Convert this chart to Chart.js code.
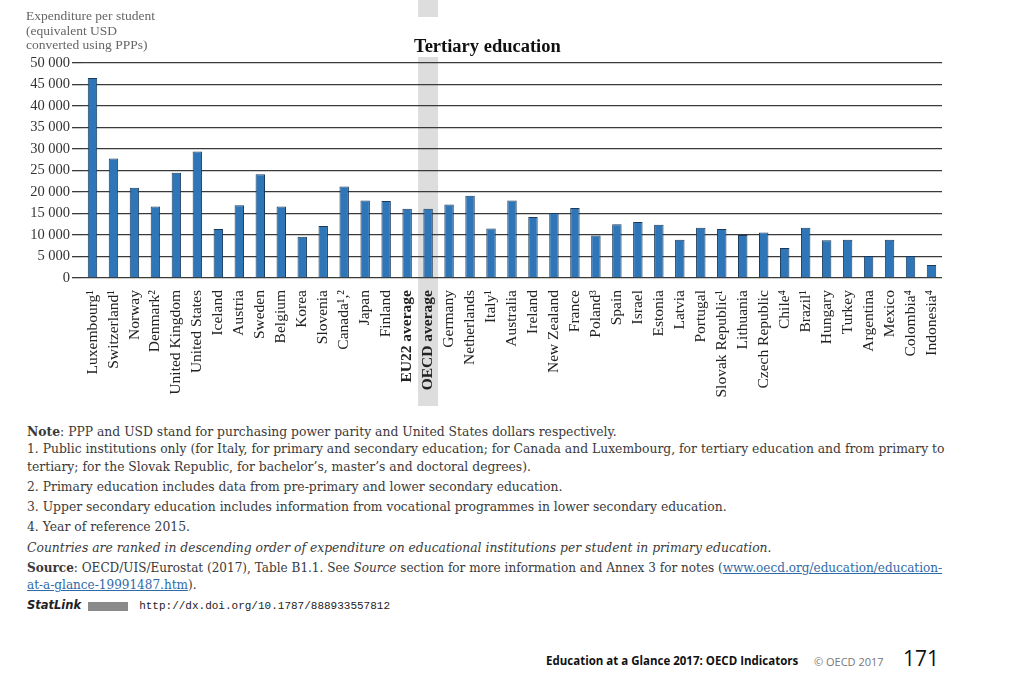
<!DOCTYPE html>
<html>
<head>
<meta charset="utf-8">
<script src="https://cdn.jsdelivr.net/npm/chart.js"></script>
<style>
  body { margin: 0; background: #fff; }
  #page { position: relative; width: 1025px; height: 673px; overflow: hidden; background: #fff; }
  #chart { position: absolute; left: 0; top: 0; }
  .t { position: absolute; white-space: nowrap; font-family: "Liberation Serif", serif; color: #333; }
  .note { font-family: "DejaVu Serif", serif; font-size: 12.35px; line-height: 16px; left: 27px; color: #3a3a3a; }
  a { color: #2f6aa8; text-decoration: underline; }
</style>
</head>
<body>
<div id="page">
  <canvas id="chart" width="1025" height="415"></canvas>

  <div class="t" style="left:26px;top:9px;font-size:13.5px;line-height:14.5px;color:#666;">Expenditure per student<br>(equivalent USD<br>converted using PPPs)</div>
  <div class="t" style="left:414px;top:36px;font-size:18.5px;font-weight:bold;color:#111;">Tertiary education</div>

  <div class="t note" style="top:424px;"><b>Note</b>: PPP and USD stand for purchasing power parity and United States dollars respectively.</div>
  <div class="t note" style="top:441px;">1. Public institutions only (for Italy, for primary and secondary education; for Canada and Luxembourg, for tertiary education and from primary to</div>
  <div class="t note" style="top:459px;">tertiary; for the Slovak Republic, for bachelor’s, master’s and doctoral degrees).</div>
  <div class="t note" style="top:479px;">2. Primary education includes data from pre-primary and lower secondary education.</div>
  <div class="t note" style="top:499px;">3. Upper secondary education includes information from vocational programmes in lower secondary education.</div>
  <div class="t note" style="top:519px;">4. Year of reference 2015.</div>
  <div class="t note" style="top:540px;font-style:italic;">Countries are ranked in descending order of expenditure on educational institutions per student in primary education.</div>
  <div class="t note" style="top:560px;font-size:12.05px;"><b>Source</b>: OECD/UIS/Eurostat (2017), Table B1.1. See <i>Source</i> section for more information and Annex 3 for notes (<a>www.oecd.org/education/education-</a></div>
  <div class="t note" style="top:577px;font-size:12.05px;"><a>at-a-glance-19991487.htm</a>).</div>
  <div class="t" style="left:27px;top:598px;font-size:12px;line-height:14px;color:#222;">
    <span style="font-family:'DejaVu Sans',sans-serif;font-style:italic;font-weight:bold;font-size:11.5px;">StatLink</span>
    <span style="display:inline-block;width:40px;height:9px;background:#8a8a8a;margin:0 8px 0 4px;vertical-align:middle;"></span>
    <span style="font-family:'Liberation Mono',monospace;font-size:11px;">http://dx.doi.org/10.1787/888933557812</span>
  </div>

  <div class="t" style="left:546px;top:653px;font-family:'Open Sans',sans-serif;font-weight:bold;font-size:11.5px;color:#111;">Education at a Glance 2017: OECD Indicators</div>
  <div class="t" style="left:814px;top:654px;font-family:'Open Sans',sans-serif;font-size:11px;color:#777;">© OECD 2017</div>
  <div class="t" style="left:903px;top:644px;font-family:'Open Sans',sans-serif;font-size:21px;color:#111;">171</div>
</div>

<script>
const countries = [
  "Luxembourg¹", "Switzerland¹", "Norway", "Denmark²", "United Kingdom", "United States",
  "Iceland", "Austria", "Sweden", "Belgium", "Korea", "Slovenia", "Canada¹,²", "Japan",
  "Finland", "EU22 average", "OECD average", "Germany", "Netherlands", "Italy¹", "Australia",
  "Ireland", "New Zealand", "France", "Poland³", "Spain", "Israel", "Estonia", "Latvia",
  "Portugal", "Slovak Republic¹", "Lithuania", "Czech Republic", "Chile⁴", "Brazil¹",
  "Hungary", "Turkey", "Argentina", "Mexico", "Colombia⁴", "Indonesia⁴"
];

const expenditure = [
  46500, 27800, 21000, 16600, 24500, 29400,
  11400, 16900, 24100, 16600, 9600, 12100, 21300, 18000,
  17900, 16100, 16100, 17100, 19100, 11500, 18000,
  14200, 15100, 16300, 9900, 12500, 13000, 12400, 8900,
  11700, 11400, 10000, 10600, 7000, 11700,
  8800, 8900, 5100, 8900, 5100, 3000
];

const boldLabels = ["EU22 average", "OECD average"];
const yMax = 50000;
const yStep = 5000;

const formatThousands = (v) => String(v).replace(/\B(?=(\d{3})+(?!\d))/g, " ");

// grey column behind the OECD average
const bandPlugin = {
  id: "oecdBand",
  beforeDraw(chart) {
    const ctx = chart.ctx;
    const x = chart.scales.x;
    const cx = x.getPixelForValue(countries.indexOf("OECD average"));
    ctx.save();
    ctx.fillStyle = "#dddddd";
    ctx.fillRect(cx - 10, 0, 20, 17);
    ctx.fillRect(cx - 10, 57, 20, 406 - 57);
    ctx.restore();
  },
};

new Chart(document.getElementById("chart"), {
  type: "bar",
  data: {
    labels: countries,
    datasets: [
      {
        data: expenditure,
        backgroundColor: "#2e76b8",
        borderColor: "#1b3a5a",
        borderWidth: 1,
        borderSkipped: "bottom",
        barPercentage: 0.9,
        categoryPercentage: 0.5,
      },
    ],
  },
  options: {
    responsive: false,
    animation: false,
    layout: { padding: { top: 63, right: 83, left: 0, bottom: 0 } },
    plugins: {
      legend: { display: false },
      tooltip: { enabled: false },
    },
    scales: {
      x: {
        grid: { display: false },
        border: { display: false },
        ticks: {
          autoSkip: false,
          minRotation: 90,
          maxRotation: 90,
          padding: 4,
          color: "#222",
          font: (ctx) => ({
            family: "Liberation Serif",
            size: 15.5,
            weight: boldLabels.includes(countries[ctx.index]) ? "bold" : "normal",
          }),
        },
        afterFit: (scale) => {
          scale.height = 137;
        },
      },
      y: {
        min: 0,
        max: yMax,
        border: { display: false },
        grid: { color: "#3a3a3a", lineWidth: 1.3, tickLength: 10 },
        ticks: {
          stepSize: yStep,
          padding: 2,
          color: "#333",
          font: { family: "Liberation Serif", size: 14.5 },
          callback: (v) => formatThousands(v),
        },
        afterFit: (scale) => {
          scale.width = 82;
        },
      },
    },
  },
  plugins: [bandPlugin],
});
</script>
</body>
</html>
